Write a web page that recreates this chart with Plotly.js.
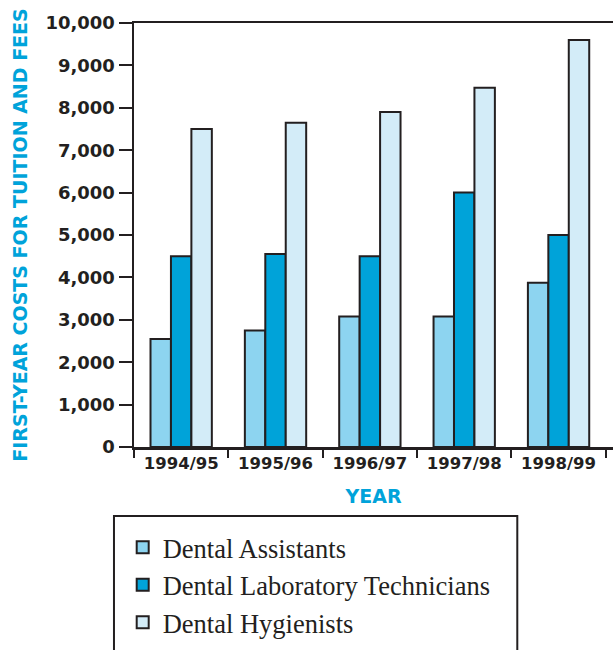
<!DOCTYPE html>
<html>
<head>
<meta charset="utf-8">
<script src="https://cdn.plot.ly/plotly-3.0.1.min.js"></script>
<style>
  html, body { margin: 0; padding: 0; background: #ffffff; }
  #chart { width: 613px; height: 650px; }
</style>
</head>
<body>
<div id="chart"></div>
<script>
// ---- data ----
var years = ['1994/95', '1995/96', '1996/97', '1997/98', '1998/99'];
var seriesNames = ['Dental Assistants', 'Dental Laboratory Technicians', 'Dental Hygienists'];
var dentalAssistants = [2550, 2750, 3075, 3075, 3875];
var dentalLabTechnicians = [4500, 4550, 4500, 6000, 5000];
var dentalHygienists = [7500, 7650, 7900, 8475, 9600];
var yTickValues = [0, 1000, 2000, 3000, 4000, 5000, 6000, 7000, 8000, 9000, 10000];
var yTickLabels = ['0', '1,000', '2,000', '3,000', '4,000', '5,000', '6,000', '7,000', '8,000', '9,000', '10,000'];
var seriesColors = ['#8dd4f0', '#00a3d9', '#d3ecf8'];

var ink = '#231f20';
var blue = '#00a3da';
var boldSans = 'DejaVu Sans, sans-serif';

var seriesValues = [dentalAssistants, dentalLabTechnicians, dentalHygienists];
var traces = seriesValues.map(function (vals, i) {
  return {
    type: 'bar',
    name: seriesNames[i],
    x: years,
    y: vals,
    marker: { color: seriesColors[i], line: { color: ink, width: 2 } },
    hoverinfo: 'x+y+name'
  };
});

var layout = {
  width: 613,
  height: 650,
  margin: { l: 134, r: 0, t: 23, b: 203 },
  paper_bgcolor: '#ffffff',
  plot_bgcolor: '#ffffff',
  barmode: 'group',
  bargap: 0.35,
  bargroupgap: 0,
  showlegend: true,
  xaxis: {
    type: 'category',
    range: [-0.5, 4.577],
    showgrid: false,
    zeroline: false,
    showline: true,
    linecolor: ink,
    linewidth: 2.5,
    mirror: true,
    ticks: 'outside',
    tickson: 'boundaries',
    ticklen: 8,
    tickwidth: 2,
    tickcolor: ink,
    tickfont: { family: boldSans, size: 16.5, color: ink, weight: 'bold' },
    title: {
      text: 'YEAR',
      font: { family: boldSans, size: 19, color: blue, weight: 'bold' },
      standoff: 18
    }
  },
  yaxis: {
    range: [0, 10000],
    showgrid: false,
    zeroline: false,
    showline: true,
    linecolor: ink,
    linewidth: 2.5,
    ticks: 'outside',
    ticklen: 13,
    tickwidth: 2,
    tickcolor: ink,
    tickmode: 'array',
    tickvals: yTickValues,
    ticktext: yTickLabels,
    ticklabelstandoff: 0,
    tickfont: { family: boldSans, size: 18, color: ink, weight: 'bold' },
    title: {
      text: 'FIRST-YEAR COSTS FOR TUITION AND FEES',
      font: { family: boldSans, size: 19, color: blue, weight: 'bold' },
      standoff: 13
    }
  },
  legend: {
    x: -0.0236,
    xanchor: 'left',
    y: -0.1806,
    yanchor: 'top',
    bgcolor: 'rgba(0,0,0,0)',
    borderwidth: 0,
    traceorder: 'normal',
    font: { family: 'Liberation Serif, serif', size: 26.5, color: ink }
  },
  shapes: [{
    type: 'rect',
    xref: 'paper', yref: 'paper',
    x0: -0.0418, x1: 0.8002,
    y0: -0.1627, y1: -0.62,
    line: { color: ink, width: 2 },
    fillcolor: 'rgba(0,0,0,0)'
  }]
};

Plotly.newPlot('chart', traces, layout, { displayModeBar: false, staticPlot: true });
</script>
</body>
</html>
